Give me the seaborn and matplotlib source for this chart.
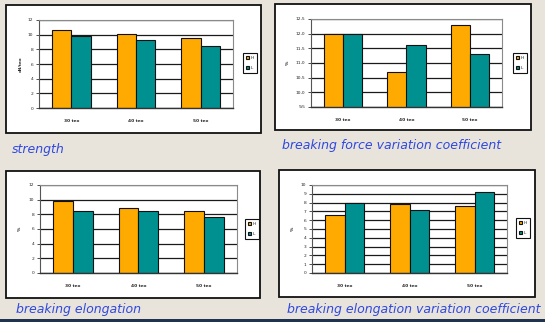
import matplotlib
matplotlib.use("Agg")
import matplotlib.pyplot as plt
from matplotlib.patches import Rectangle
from matplotlib.ticker import FuncFormatter, FixedLocator
import pandas as pd
import seaborn as sns

# ---- data -------------------------------------------------------------
categories = ["30 tex", "40 tex", "50 tex"]
series = ["H", "L"]

strength_h = [10.6, 10.15, 9.6]
strength_l = [9.75, 9.25, 8.4]

force_cv_h = [12.0, 10.7, 12.3]
force_cv_l = [12.0, 11.6, 11.3]

elong_h = [9.8, 8.9, 8.4]
elong_l = [8.4, 8.4, 7.6]

elong_cv_h = [6.55, 7.8, 7.6]
elong_cv_l = [8.0, 7.2, 9.15]

captions = ["strength",
            "breaking force variation coefficient",
            "breaking elongation",
            "breaking elongation variation coefficient"]
y_labels = ["cN/tex", "%", "%", "%"]
y_limits = [(0, 12), (9.5, 12.5), (0, 12), (0, 10)]
y_steps = [2, 0.5, 2, 1]

# ---- styling ------------------------------------------------------------
W, H = 545, 322
BG = "#e8e4dc"
ORANGE = "#ffaa00"
TEAL = "#009090"
CAPTION = "#2f48e0"

sns.set_theme(style="white")
plt.rcParams["font.family"] = ["DejaVu Sans"]

fig = plt.figure(figsize=(W / 100, H / 100), dpi=100, facecolor=BG)


def fig_rect(x0, y0, x1, y1):
    return [x0 / W, 1 - y1 / H, (x1 - x0) / W, (y1 - y0) / H]


def frame(x0, y0, x1, y1):
    l, b, w, h = fig_rect(x0, y0, x1, y1)
    fig.add_artist(Rectangle((l, b), w, h, transform=fig.transFigure,
                             facecolor="white", edgecolor="#111111",
                             linewidth=1.3, zorder=-1))


def comma_fmt(v, _):
    return f"{v:.1f}".replace(".", ",")


def int_fmt(v, _):
    return f"{v:.0f}"


# panel layout in pixels: frame box, plot area, legend centre, y-label x, caption pos
panels = [
    dict(box=(6, 5, 261, 133), plot=(39, 20, 233, 108), leg=(250, 63), ylab=21,
         cap=(12, 150), h=strength_h, l=strength_l),
    dict(box=(275, 4, 531, 130), plot=(311, 19, 502, 107), leg=(520, 63), ylab=288,
         cap=(282, 145), h=force_cv_h, l=force_cv_l),
    dict(box=(6, 171, 260, 298), plot=(40, 185, 237, 273), leg=(252, 229), ylab=20,
         cap=(16, 310), h=elong_h, l=elong_l),
    dict(box=(279, 170, 535, 297), plot=(312, 185, 507, 273), leg=(523, 228), ylab=293,
         cap=(287, 310), h=elong_cv_h, l=elong_cv_l),
]

for i, p in enumerate(panels):
    frame(*p["box"])
    ax = fig.add_axes(fig_rect(*p["plot"]))
    df = pd.DataFrame({
        "tex": categories * 2,
        "yarn": [series[0]] * 3 + [series[1]] * 3,
        "value": list(p["h"]) + list(p["l"]),
    })
    sns.barplot(data=df, x="tex", y="value", hue="yarn",
                palette=[ORANGE, TEAL], saturation=1, width=0.6,
                edgecolor="#111111", linewidth=0.8, ax=ax)
    lo, hi = y_limits[i]
    ax.set_ylim(lo, hi)
    ax.set_xlim(-0.5, 2.5)
    step = y_steps[i]
    n = int(round((hi - lo) / step))
    ticks = [lo + k * step for k in range(n + 1)]
    ax.yaxis.set_major_locator(FixedLocator(ticks))
    ax.yaxis.set_major_formatter(FuncFormatter(comma_fmt if step < 1 else int_fmt))
    ax.set_axisbelow(True)
    ax.yaxis.grid(True, color="#1a1a1a", linewidth=0.9)
    ax.xaxis.grid(False)
    for side in ("top", "right"):
        ax.spines[side].set_color("#8a8a8a")
        ax.spines[side].set_linewidth(0.8)
    ax.spines["left"].set_color("#555555")
    ax.spines["left"].set_linewidth(0.8)
    ax.spines["bottom"].set_color("#333333")
    ax.spines["bottom"].set_linewidth(1.0)

    # category axis: tick marks between categories, labels under each group
    ax.set_xticks([0, 1, 2])
    ax.set_xticklabels(categories, fontsize=3.2, fontweight="bold")
    ax.set_xticks([-0.5, 0.5, 1.5, 2.5], minor=True)
    ax.tick_params(axis="x", which="major", length=0, pad=8)
    ax.tick_params(axis="x", which="minor", length=2, width=0.6, color="#333333",
                   direction="out")
    ax.tick_params(axis="y", length=2, width=0.6, color="#333333", direction="out",
                   labelsize=3.2, pad=2)
    ax.tick_params(axis="both", bottom=True, left=True)
    ax.set_xlabel("")
    ax.set_ylabel("")
    x0, y0, x1, y1 = p["plot"]
    fig.text(p["ylab"] / W, 1 - ((y0 + y1) / 2) / H, y_labels[i],
             rotation=90, fontsize=3.2, fontweight="bold", ha="center", va="center")

    handles, labels = ax.get_legend_handles_labels()
    ax.legend(handles, labels, loc="center",
              bbox_to_anchor=(p["leg"][0] / W, 1 - p["leg"][1] / H),
              bbox_transform=fig.transFigure, fontsize=3.2, frameon=True,
              fancybox=False, edgecolor="#111111", framealpha=1,
              handlelength=0.7, handleheight=0.7, handletextpad=0.5,
              labelspacing=1.4, borderpad=0.7)
    ax.get_legend().get_frame().set_linewidth(0.8)

    fig.text(p["cap"][0] / W, 1 - p["cap"][1] / H, captions[i], color=CAPTION,
             fontsize=9, fontstyle="italic", ha="left", va="center")

# dark strip along the bottom edge
fig.add_artist(Rectangle((0, 0), 1, 3.5 / H, transform=fig.transFigure,
                         facecolor="#1f3350", edgecolor="none", zorder=5))

fig.savefig("out.png", dpi=100, facecolor=BG)
